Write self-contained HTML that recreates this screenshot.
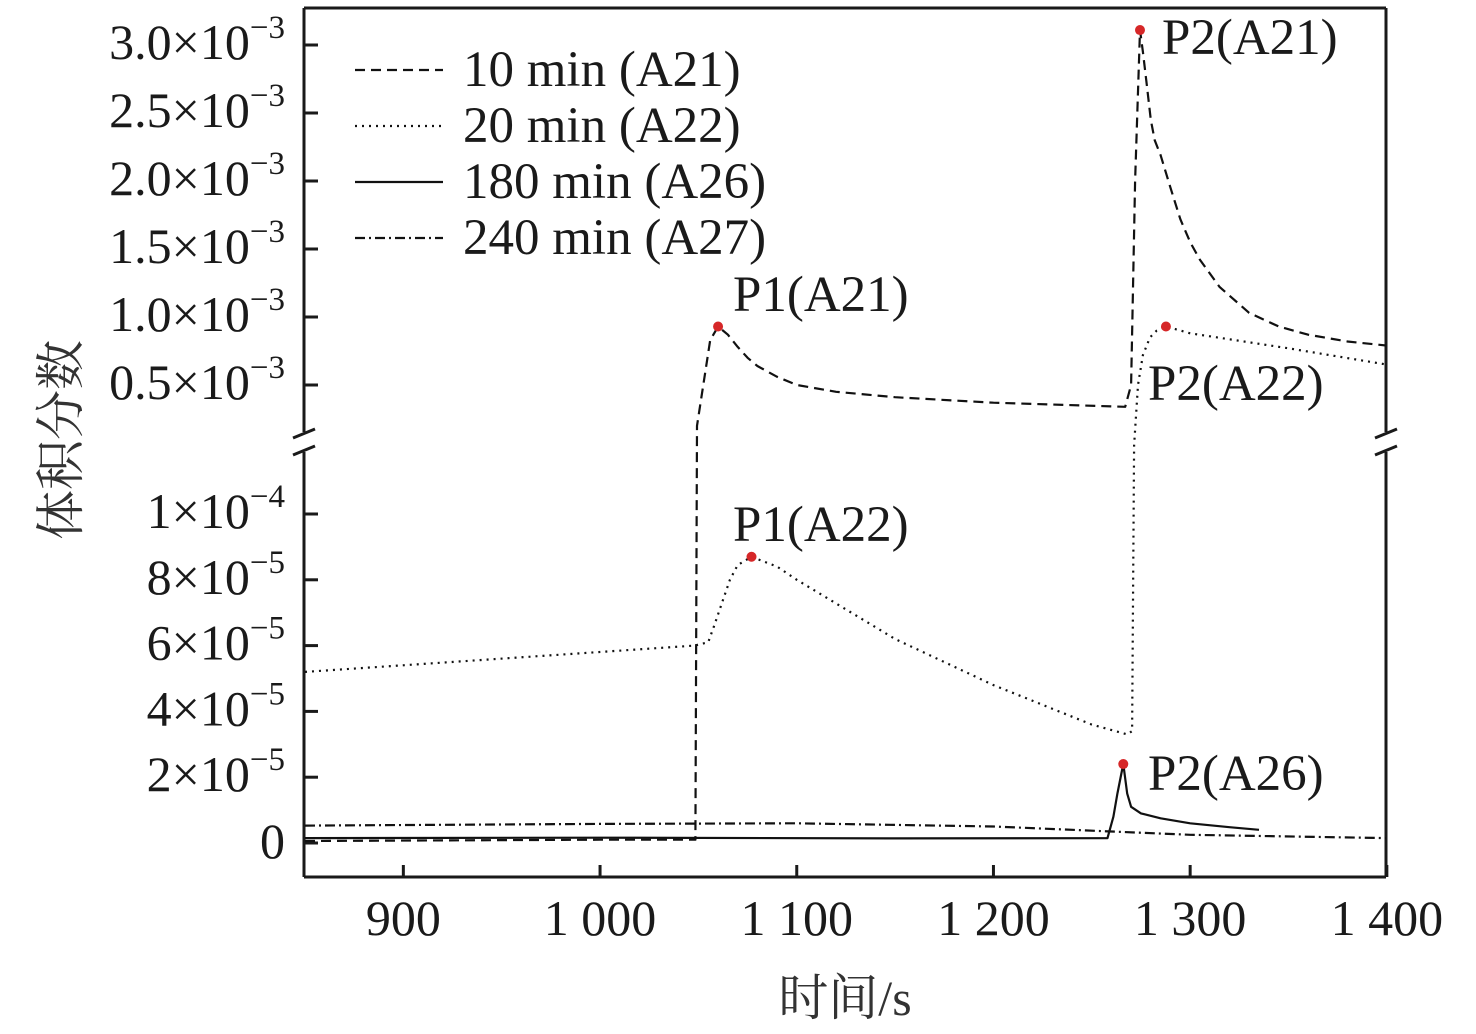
<!DOCTYPE html>
<html><head><meta charset="utf-8"><style>
html,body{margin:0;padding:0;background:#fff;}
svg{display:block;font-family:"Liberation Serif","Noto Serif CJK SC",serif;}
</style></head><body>
<svg id="chart" width="1476" height="1034" viewBox="0 0 1476 1034" xmlns="http://www.w3.org/2000/svg">
<defs><clipPath id="clip"><rect x="305" y="8" width="1081" height="869"/></clipPath></defs>
<g id="frame" stroke="#1a1a1a" stroke-width="3" fill="none">
<line x1="304" y1="8" x2="1386" y2="8"/>
<line x1="304" y1="877" x2="1386" y2="877"/>
<line x1="304" y1="8" x2="304" y2="432"/>
<line x1="304" y1="452" x2="304" y2="877"/>
<line x1="1386" y1="8" x2="1386" y2="432"/>
<line x1="1386" y1="452" x2="1386" y2="877"/>
<line x1="293" y1="438" x2="315" y2="429"/>
<line x1="293" y1="455" x2="315" y2="446"/>
<line x1="1375" y1="438" x2="1397" y2="429"/>
<line x1="1375" y1="455" x2="1397" y2="446"/>
</g>
<g id="ticks" stroke="#1a1a1a" stroke-width="3"></g>
<g id="labels" fill="#1a1a1a" font-size="50"></g>
<g id="series" clip-path="url(#clip)" fill="none" stroke="#111" stroke-width="2.2" stroke-linejoin="round"></g>
<g id="markers" fill="#d62728"></g>
<g id="legend" font-size="51" fill="#1a1a1a">
<line x1="355" y1="70" x2="443" y2="70" stroke="#111" stroke-width="2.2" stroke-dasharray="10,6"/>
<text x="463" y="86">10 min (A21)</text>
<line x1="355" y1="126" x2="443" y2="126" stroke="#111" stroke-width="2.2" stroke-dasharray="2,5"/>
<text x="463" y="142">20 min (A22)</text>
<line x1="355" y1="182" x2="443" y2="182" stroke="#111" stroke-width="2.2"/>
<text x="463" y="198">180 min (A26)</text>
<line x1="355" y1="238" x2="443" y2="238" stroke="#111" stroke-width="2.2" stroke-dasharray="10,4,2,4"/>
<text x="463" y="254">240 min (A27)</text>
</g>
<g id="annotations" font-size="51" fill="#1a1a1a">
<text x="733" y="311">P1(A21)</text>
<text x="733" y="541">P1(A22)</text>
<text x="1162" y="54">P2(A21)</text>
<text x="1148" y="400">P2(A22)</text>
<text x="1148" y="790">P2(A26)</text>
</g>
<text transform="translate(78,440) rotate(-90)" text-anchor="middle" font-size="50" fill="#333" font-family="'Noto Serif CJK SC','Noto Sans CJK SC',serif">体积分数</text>
<text x="845" y="1015" text-anchor="middle" font-size="50" fill="#333" font-family="'Liberation Serif','Noto Serif CJK SC',serif">时间/s</text>
</svg>
<script>
const xTicks = [900, 1000, 1100, 1200, 1300, 1400];
const xTickLabels = ["900", "1 000", "1 100", "1 200", "1 300", "1 400"];
const yUpperTicks = [0.5e-3, 1.0e-3, 1.5e-3, 2.0e-3, 2.5e-3, 3.0e-3];
const yUpperLabels = ["0.5", "1.0", "1.5", "2.0", "2.5", "3.0"];
const yLowerTicks = [0, 2e-5, 4e-5, 6e-5, 8e-5, 1e-4];
const yLowerLabels = ["0", "2", "4", "6", "8", "1"];
const a21T = [850,1000,1048.5,1049.3,1056,1060,1065,1070,1075,1080,1090,1100,1120,1150,1200,1267,1270,1272,1274.5,1276,1278,1280,1282,1285,1290,1295,1300,1305,1315,1330,1345,1360,1380,1400];
const a21V = [0.6e-6,1e-6,1e-6,0.2e-3,0.83e-3,0.93e-3,0.87e-3,0.78e-3,0.70e-3,0.64e-3,0.56e-3,0.50e-3,0.45e-3,0.41e-3,0.37e-3,0.34e-3,0.5e-3,2.0e-3,3.11e-3,2.95e-3,2.7e-3,2.45e-3,2.3e-3,2.19e-3,1.95e-3,1.72e-3,1.55e-3,1.42e-3,1.22e-3,1.03e-3,0.93e-3,0.87e-3,0.82e-3,0.79e-3];
const a22T = [850,1048,1055,1058,1062,1066,1070,1077,1090,1100,1150,1200,1250,1268,1270.5,1271.5,1273.5,1276,1279.6,1283,1287.7,1300,1350,1400];
const a22V = [5.2e-5,6.0e-5,6.1e-5,6.6e-5,7.3e-5,8.0e-5,8.45e-5,8.7e-5,8.4e-5,8.0e-5,6.2e-5,4.8e-5,3.6e-5,3.3e-5,3.4e-5,1.3e-4,0.5e-3,0.72e-3,0.85e-3,0.9e-3,0.93e-3,0.88e-3,0.77e-3,0.65e-3];
const a26T = [850,1000,1150,1258,1261,1263,1265,1266,1268,1270,1275,1285,1300,1320,1335];
const a26V = [1.5e-6,1.6e-6,1.4e-6,1.5e-6,8e-6,1.5e-5,2.1e-5,2.4e-5,1.5e-5,1.1e-5,9e-6,7.5e-6,6e-6,4.8e-6,4e-6];
const a27T = [850,1000,1100,1200,1260,1300,1400];
const a27V = [5.3e-6,5.8e-6,6e-6,5e-6,3.5e-6,2.5e-6,1.5e-6];
const peakT = [1060, 1077, 1274.5, 1287.7, 1266];
const peakV = [0.93e-3, 8.7e-5, 3.11e-3, 0.93e-3, 2.4e-5];
const peakNames = ["p1-a21","p1-a22","p2-a21","p2-a22","p2-a26"];

const NS = "http://www.w3.org/2000/svg";
function xs(t){ return 305 + (t - 850) * 1.967; }
function yLow(v){ return 843 - v / 2e-5 * 65.8; }
function yUp(v){ return 385 - (v - 0.5e-3) * 136000; }
function ys(v){
  if (v <= 1.2e-4) return yLow(v);
  if (v >= 2e-4) return yUp(v);
  const f = (v - 1.2e-4) / 0.8e-4;
  return yLow(1.2e-4) + f * (yUp(2e-4) - yLow(1.2e-4));
}
const tickG = document.getElementById('ticks');
const labG = document.getElementById('labels');
xTicks.forEach((t, i) => {
  const l = document.createElementNS(NS, 'line');
  l.setAttribute('x1', xs(t)); l.setAttribute('x2', xs(t));
  l.setAttribute('y1', 877); l.setAttribute('y2', 865);
  
  
  tickG.appendChild(l);
  const tx = document.createElementNS(NS, 'text');
  tx.setAttribute('x', xs(t)); tx.setAttribute('y', 935);
  tx.setAttribute('text-anchor', 'middle');
  tx.textContent = xTickLabels[i];
  
  
  labG.appendChild(tx);
});
function yLabel(y, mant, exp){
  const tx = document.createElementNS(NS, 'text');
  tx.setAttribute('x', 285); tx.setAttribute('y', y + 17);
  tx.setAttribute('text-anchor', 'end');
  if (exp === null) { tx.textContent = mant; }
  else {
    const a = document.createElementNS(NS, 'tspan'); a.textContent = mant + '×10';
    const b = document.createElementNS(NS, 'tspan'); b.textContent = '−' + exp;
    b.setAttribute('font-size', '33'); b.setAttribute('dy', '-21');
    tx.appendChild(a); tx.appendChild(b);
  }
  
  
  labG.appendChild(tx);
}
function yTick(y){
  const l = document.createElementNS(NS, 'line');
  l.setAttribute('x1', 304); l.setAttribute('x2', 318);
  l.setAttribute('y1', y); l.setAttribute('y2', y);
  
  
  tickG.appendChild(l);
}
yUpperTicks.forEach((v, i) => { const y = yUp(v); yTick(y); yLabel(y - 3, yUpperLabels[i], '3'); });
yLowerTicks.forEach((v, i) => { const y = yLow(v); yTick(y); yLabel(i === 0 ? y - 2 : y - 3, yLowerLabels[i], i === 0 ? null : (i === 5 ? '4' : '5')); });

const serG = document.getElementById('series');
function drawSeries(T, V, dash, name){
  const p = document.createElementNS(NS, 'path');
  p.setAttribute('d', T.map((t, i) => (i ? 'L' : 'M') + xs(t).toFixed(1) + ',' + ys(V[i]).toFixed(1)).join(''));
  if (dash) p.setAttribute('stroke-dasharray', dash);
  
  
  serG.appendChild(p);
}
drawSeries(a27T, a27V, '10,4,2,4', 'series-a27-240min');
drawSeries(a26T, a26V, null, 'series-a26-180min');
drawSeries(a22T, a22V, '2,5', 'series-a22-20min');
drawSeries(a21T, a21V, '10,6', 'series-a21-10min');
const mG = document.getElementById('markers');
peakT.forEach((t, i) => {
  const c = document.createElementNS(NS, 'circle');
  c.setAttribute('cx', xs(t)); c.setAttribute('cy', ys(peakV[i])); c.setAttribute('r', 5);
  
  
  mG.appendChild(c);
});
</script>
</body></html>
